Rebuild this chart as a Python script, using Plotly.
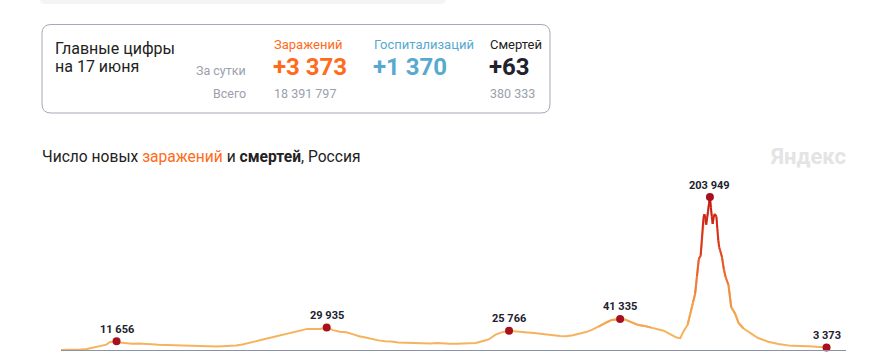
import plotly.graph_objects as go
import plotly.colors as pc

# ---------------- data ----------------
dates = [
    "2020-03-12", "2020-03-19", "2020-03-26", "2020-04-02", "2020-04-09", "2020-04-16",
    "2020-04-23", "2020-04-30", "2020-05-04", "2020-05-07", "2020-05-11", "2020-05-14",
    "2020-05-21", "2020-05-28", "2020-06-04", "2020-06-11", "2020-06-18", "2020-06-25",
    "2020-07-02", "2020-07-09", "2020-07-16", "2020-07-23", "2020-07-30", "2020-08-06",
    "2020-08-13", "2020-08-20", "2020-08-27", "2020-09-03", "2020-09-10", "2020-09-17",
    "2020-09-24", "2020-10-01", "2020-10-08", "2020-10-15", "2020-10-22", "2020-10-29",
    "2020-11-05", "2020-11-12", "2020-11-19", "2020-11-26", "2020-12-03", "2020-12-10",
    "2020-12-17", "2020-12-24", "2020-12-31", "2021-01-07", "2021-01-14", "2021-01-21",
    "2021-01-28", "2021-02-04", "2021-02-11", "2021-02-18", "2021-02-25", "2021-03-04",
    "2021-03-11", "2021-03-18", "2021-03-25", "2021-04-01", "2021-04-08", "2021-04-15",
    "2021-04-22", "2021-04-29", "2021-05-06", "2021-05-13", "2021-05-20", "2021-05-27",
    "2021-06-03", "2021-06-10", "2021-06-17", "2021-06-24", "2021-07-01", "2021-07-09",
    "2021-07-15", "2021-07-22", "2021-07-29", "2021-08-05", "2021-08-12", "2021-08-19",
    "2021-08-26", "2021-09-02", "2021-09-09", "2021-09-16", "2021-09-23", "2021-09-30",
    "2021-10-07", "2021-10-14", "2021-10-21", "2021-10-28", "2021-11-06", "2021-11-11",
    "2021-11-18", "2021-11-25", "2021-12-02", "2021-12-09", "2021-12-16", "2021-12-23",
    "2021-12-30", "2022-01-06", "2022-01-10", "2022-01-13", "2022-01-18", "2022-01-21",
    "2022-01-24", "2022-01-26", "2022-01-28", "2022-01-30", "2022-02-01", "2022-02-03",
    "2022-02-04", "2022-02-05", "2022-02-06", "2022-02-07", "2022-02-08", "2022-02-09",
    "2022-02-10", "2022-02-11", "2022-02-12", "2022-02-13", "2022-02-14", "2022-02-15",
    "2022-02-16", "2022-02-17", "2022-02-18", "2022-02-19", "2022-02-20", "2022-02-21",
    "2022-02-22", "2022-02-24", "2022-02-26", "2022-02-28", "2022-03-03", "2022-03-06",
    "2022-03-10", "2022-03-14", "2022-03-19", "2022-03-27", "2022-04-04", "2022-04-15",
    "2022-04-26", "2022-05-10", "2022-05-29", "2022-06-17",
]
cases = [
    6, 52, 182, 771, 1459, 3448,
    4774, 7099, 10633, 11231, 11656, 9974,
    8849, 8371, 8831, 8779, 7790, 7113,
    6760, 6509, 6428, 5848, 5509, 5241,
    5102, 4870, 4711, 4995, 5363, 5905,
    7212, 8945, 11493, 13754, 15700, 17717,
    19768, 21608, 23610, 25487, 28145, 27927,
    27921, 29935, 26513, 24246, 23510, 21152,
    18241, 16643, 14494, 12828, 11534, 11385,
    9999, 9632, 9128, 8792, 8679, 8632,
    9284, 9270, 8419, 8217, 8632, 8947,
    9364, 11699, 14057, 20182, 23543, 25766,
    25293, 23811, 23270, 22589, 21932, 21058,
    19630, 18780, 18341, 19594, 21379, 23888,
    27246, 31299, 36339, 40096, 41335, 40759,
    37156, 33558, 32136, 29929, 27967, 25667,
    21073, 16614, 15830, 23820, 33899, 49513,
    65109, 74692, 98040, 121228, 125836, 160000,
    176000, 181000, 176000, 167000, 176000, 185000,
    195000, 203949, 190000, 178000, 168000, 177000,
    181000, 180000, 178000, 162000, 146000, 137000,
    133000, 124000, 108000, 97000, 87000, 57000,
    49000, 36000, 29000, 22000, 16000, 11000,
    8000, 5500, 5000, 3373,
]
marked_dates = ["2020-05-11", "2020-12-24", "2021-07-09", "2021-11-06", "2022-02-11", "2022-06-17"]

summary_heads = ["Заражений", "Госпитализаций", "Смертей"]
summary_day = ["+3 373", "+1 370", "+63"]
summary_total = ["18 391 797", "", "380 333"]

# ---------------- helpers ----------------
W, H = 875, 355
OFF = 0  # body margin removed by post_script
def px(x):
    return (x - OFF) / W
def py(y):
    return 1 - (y - OFF) / H

def fmt(v):
    return f"{v:,}".replace(",", " ")

ORANGE = "#ff6b1a"
BLUE = "#58a9cf"
DARK = "#20222e"
GRAY = "#9ba0ad"
FONT = "Roboto"

colorscale = [[0.0, "#f6b25c"], [0.3, "#f29f4c"], [0.5, "#eb6934"],
              [0.7, "#da3525"], [1.0, "#c2151c"]]
vmax = max(cases)

fig = go.Figure()

fig.add_trace(go.Scatter(x=dates, y=cases, mode="lines",
                         line=dict(color="#f6b25c", width=2), hoverinfo="skip",
                         cliponaxis=False))
for i in range(len(dates) - 1):
    m = (cases[i] + cases[i + 1]) / 2
    if m < 30000:
        continue
    c = pc.sample_colorscale(colorscale, [min(m / vmax, 1.0)])[0]
    fig.add_trace(go.Scatter(x=dates[i:i + 2], y=cases[i:i + 2], mode="lines",
                             line=dict(color=c, width=2), hoverinfo="skip",
                             cliponaxis=False))

mvals = [cases[dates.index(d)] for d in marked_dates]
fig.add_trace(go.Scatter(x=marked_dates, y=mvals, mode="markers",
                         marker=dict(color="#a8101d", size=8),
                         hoverinfo="skip", cliponaxis=False))

annotations = []
for d, v in zip(marked_dates, mvals):
    annotations.append(dict(x=d, y=v, xref="x", yref="y", text=f"<b>{fmt(v)}</b>",
                            showarrow=False, yshift=12, yanchor="middle",
                            font=dict(family=FONT, size=11, color=DARK)))

annotations += [
    dict(x=px(53), y=py(48), text="Главные цифры", xanchor="left", yanchor="middle",
         font=dict(family=FONT, size=16, color="#222")),
    dict(x=px(53), y=py(67), text="на 17 июня", xanchor="left", yanchor="middle",
         font=dict(family=FONT, size=16, color="#222")),
    dict(x=px(248), y=py(71), text="За сутки", xanchor="right", yanchor="middle",
         font=dict(family=FONT, size=12.5, color=GRAY)),
    dict(x=px(248), y=py(93), text="Всего", xanchor="right", yanchor="middle",
         font=dict(family=FONT, size=12.5, color=GRAY)),
]
cols_x = [272, 372, 488]
head_colors = [ORANGE, BLUE, "#222"]
num_colors = [ORANGE, BLUE, DARK]
for cx, h, dday, tot, hc, nc in zip(cols_x, summary_heads, summary_day, summary_total,
                                    head_colors, num_colors):
    annotations.append(dict(x=px(cx), y=py(44), text=h, xanchor="left", yanchor="middle",
                            font=dict(family=FONT, size=13, color=hc)))
    annotations.append(dict(x=px(cx - 1), y=py(67), text=f"<b>{dday}</b>", xanchor="left",
                            yanchor="middle", font=dict(family=FONT, size=24, color=nc)))
    if tot:
        annotations.append(dict(x=px(cx), y=py(93), text=tot, xanchor="left",
                                yanchor="middle", font=dict(family=FONT, size=12.5, color=GRAY)))

annotations += [
    dict(x=px(40), y=py(157), xanchor="left", yanchor="middle",
         text=f"Число новых <span style='color:{ORANGE}'>заражений</span> и <b>смертей</b>, Россия",
         font=dict(family=FONT, size=15.6, color="#222")),
    dict(x=px(848), y=py(156), xanchor="right", yanchor="middle", text="<b>Яндекс</b>",
         font=dict(family=FONT, size=22, color="#e4e4e4")),
]
for a in annotations:
    a.setdefault("showarrow", False)
    if a.get("xref") is None:
        a["xref"] = "paper"
        a["yref"] = "paper"

def rounded(x0, y0, x1, y1, r):
    return (f"M {px(x0 + r)},{py(y0)} L {px(x1 - r)},{py(y0)} "
            f"Q {px(x1)},{py(y0)} {px(x1)},{py(y0 + r)} L {px(x1)},{py(y1 - r)} "
            f"Q {px(x1)},{py(y1)} {px(x1 - r)},{py(y1)} L {px(x0 + r)},{py(y1)} "
            f"Q {px(x0)},{py(y1)} {px(x0)},{py(y1 - r)} L {px(x0)},{py(y0 + r)} "
            f"Q {px(x0)},{py(y0)} {px(x0 + r)},{py(y0)} Z")

shapes = [
    dict(type="path", xref="paper", yref="paper", path=rounded(40, -12, 446, 4, 6),
         fillcolor="#f3f4f6", line=dict(width=0)),
    dict(type="path", xref="paper", yref="paper", path=rounded(42, 24.5, 550, 113, 9),
         fillcolor="rgba(0,0,0,0)", line=dict(color="#a3a9b6", width=1)),
]

y_top_px, y_bot_px = 180, 350
per_px = 203949 / (350 - 197)
fig.update_layout(
    width=W, height=H, margin=dict(l=0, r=0, t=0, b=0),
    paper_bgcolor="white", plot_bgcolor="white", showlegend=False,
    hovermode=False,
    xaxis=dict(type="date", range=["2020-03-12", "2022-07-08"],
               domain=[px(61), px(846)], showgrid=False, zeroline=False,
               showticklabels=False, ticks="", showline=True,
               linecolor="#8a92a5", linewidth=1),
    yaxis=dict(range=[0, (y_bot_px - y_top_px) * per_px],
               domain=[py(y_bot_px), py(y_top_px)], showgrid=False, zeroline=False,
               showticklabels=False, ticks="", showline=False),
    annotations=annotations, shapes=shapes,
)

fig.write_html("out.html", config={"displayModeBar": False, "staticPlot": True},
               post_script="document.body.style.margin='0';document.body.style.overflow='hidden';")
